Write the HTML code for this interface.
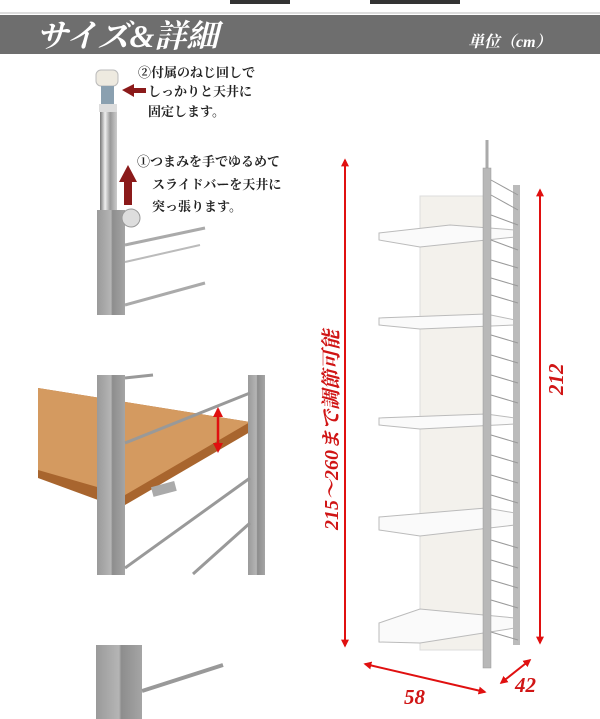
<!DOCTYPE html>
<html><head><meta charset="utf-8"><style>
body{margin:0;background:#fff;width:600px;height:719px;overflow:hidden;font-family:"Liberation Serif","Noto Serif CJK SC",serif}
svg{display:block}
</style></head><body>
<svg width="600" height="719" viewBox="0 0 600 719" xmlns="http://www.w3.org/2000/svg">
<defs>
<marker id="ar" viewBox="0 0 10 10" refX="8" refY="5" markerWidth="4" markerHeight="4" orient="auto-start-reverse"><path d="M0,0L10,5L0,10z" fill="#e01010"/></marker>
<linearGradient id="chrome" x1="0" x2="1"><stop offset="0" stop-color="#777"/><stop offset=".3" stop-color="#eee"/><stop offset=".6" stop-color="#999"/><stop offset="1" stop-color="#ccc"/></linearGradient>
<linearGradient id="post" x1="0" x2="1"><stop offset="0" stop-color="#9a9a9a"/><stop offset=".5" stop-color="#b5b5b5"/><stop offset=".55" stop-color="#8d8d8d"/><stop offset="1" stop-color="#a5a5a5"/></linearGradient>
</defs>
<rect x="230" y="0" width="60" height="4" fill="#333"/><rect x="370" y="0" width="90" height="4" fill="#333"/>
<rect x="0" y="12" width="600" height="2" fill="#ddd"/>
<rect x="0" y="15" width="600" height="39" fill="#6e6e6e"/>
<text x="36" y="47" font-size="32" font-weight="bold" font-style="italic" fill="#fff">サイズ&amp;詳細</text>
<text x="468" y="47" font-size="16" font-weight="bold" font-style="italic" fill="#fff">単位（cm）</text>

<rect x="96" y="70" width="22" height="16" rx="5" fill="#eeeae0" stroke="#bbb"/>
<rect x="101" y="86" width="13" height="20" fill="#8aa0b0"/>
<rect x="99" y="104" width="18" height="8" fill="#ddd"/>
<rect x="100" y="112" width="17" height="98" fill="url(#chrome)"/>
<rect x="97" y="210" width="28" height="105" fill="url(#post)"/>
<circle cx="131" cy="218" r="9" fill="#ddd" stroke="#999"/>
<line x1="125" y1="245" x2="205" y2="228" stroke="#aaa" stroke-width="3"/>
<line x1="125" y1="305" x2="205" y2="283" stroke="#aaa" stroke-width="3"/>
<line x1="125" y1="262" x2="200" y2="245" stroke="#bbb" stroke-width="2"/>
<path d="M122,90 L134,84 L134,88 L146,88 L146,93 L134,93 L134,97z" fill="#8b1a1a"/>
<path d="M128,165 L137,182 L132,182 L132,205 L124,205 L124,182 L119,182z" fill="#8b1a1a"/>
<g font-size="13" font-weight="bold" fill="#222">
<text x="138" y="77">②付属のねじ回しで</text>
<text x="148" y="96">しっかりと天井に</text>
<text x="148" y="116">固定します。</text>
<text x="137" y="166">①つまみを手でゆるめて</text>
<text x="152" y="189">スライドバーを天井に</text>
<text x="152" y="211">突っ張ります。</text>
</g>

<polygon points="38,388 250,422 250,432 125,505 98,500 38,478" fill="#a8652e"/>
<polygon points="38,388 250,422 125,495 38,470" fill="#d49a60"/>
<rect x="97" y="375" width="28" height="200" fill="url(#post)"/>
<rect x="248" y="375" width="17" height="200" fill="url(#post)"/>
<line x1="125" y1="378" x2="153" y2="375" stroke="#999" stroke-width="3"/>
<line x1="125" y1="443" x2="250" y2="393" stroke="#999" stroke-width="3"/>
<line x1="125" y1="568" x2="250" y2="478" stroke="#999" stroke-width="3"/>
<line x1="193" y1="574" x2="250" y2="523" stroke="#999" stroke-width="3"/>
<rect x="152" y="485" width="24" height="10" fill="#aaa" transform="rotate(-15 160 490)"/>
<line x1="218" y1="409" x2="218" y2="451" stroke="#e01010" stroke-width="2.5" marker-start="url(#ar)" marker-end="url(#ar)"/>

<rect x="96" y="645" width="46" height="74" fill="url(#post)"/>
<line x1="142" y1="691" x2="223" y2="665" stroke="#999" stroke-width="4"/>

<rect x="420" y="196" width="66" height="454" fill="#f3f1ec" stroke="#ddd"/>
<g fill="#fafafa" stroke="#bbb">
<polygon points="379,233 450,225 515,230 515,237 420,247 379,240"/>
<polygon points="379,318 486,314 515,320 515,325 420,329 379,325"/>
<polygon points="379,418 486,414 515,418 515,424 420,429 379,425"/>
<polygon points="379,517 486,508 515,513 515,525 420,536 379,530"/>
<polygon points="379,623 420,609 515,618 515,628 420,643 379,642"/>
</g>
<line x1="487" y1="140" x2="487" y2="172" stroke="#aaa" stroke-width="3"/>
<rect x="483" y="168" width="8" height="500" fill="#b8b8b8" stroke="#999" stroke-width=".5"/>
<rect x="513" y="185" width="7" height="460" fill="#bbb"/>
<g stroke="#999" stroke-width="1">
<line x1="491" y1="180" x2="518" y2="195"/><line x1="491" y1="195" x2="518" y2="210"/><line x1="491" y1="215" x2="518" y2="225"/>
<line x1="491" y1="240" x2="518" y2="250"/><line x1="491" y1="260" x2="518" y2="268"/><line x1="491" y1="278" x2="518" y2="286"/>
<line x1="491" y1="295" x2="518" y2="303"/><line x1="491" y1="335" x2="518" y2="343"/><line x1="491" y1="355" x2="518" y2="363"/>
<line x1="491" y1="375" x2="518" y2="383"/><line x1="491" y1="395" x2="518" y2="403"/><line x1="491" y1="435" x2="518" y2="443"/>
<line x1="491" y1="455" x2="518" y2="463"/><line x1="491" y1="475" x2="518" y2="483"/><line x1="491" y1="495" x2="518" y2="503"/>
<line x1="491" y1="540" x2="518" y2="548"/><line x1="491" y1="560" x2="518" y2="568"/><line x1="491" y1="580" x2="518" y2="588"/>
<line x1="491" y1="600" x2="518" y2="608"/><line x1="491" y1="632" x2="518" y2="640"/>
</g>
<g stroke="#e01010" stroke-width="2" marker-start="url(#ar)" marker-end="url(#ar)">
<line x1="345" y1="160" x2="345" y2="646"/>
<line x1="540" y1="190" x2="540" y2="643"/>
<line x1="365" y1="664" x2="485" y2="692"/>
<line x1="501" y1="683" x2="530" y2="660"/>
</g>
<g fill="#d01515" font-weight="bold" font-style="italic">
<text transform="translate(338,530) rotate(-90)" font-size="20">215～260まで調節可能</text>
<text transform="translate(563,395) rotate(-90)" font-size="21">212</text>
<text x="404" y="704" font-size="21">58</text>
<text x="515" y="692" font-size="21">42</text>
</g>
</svg>
</body></html>
